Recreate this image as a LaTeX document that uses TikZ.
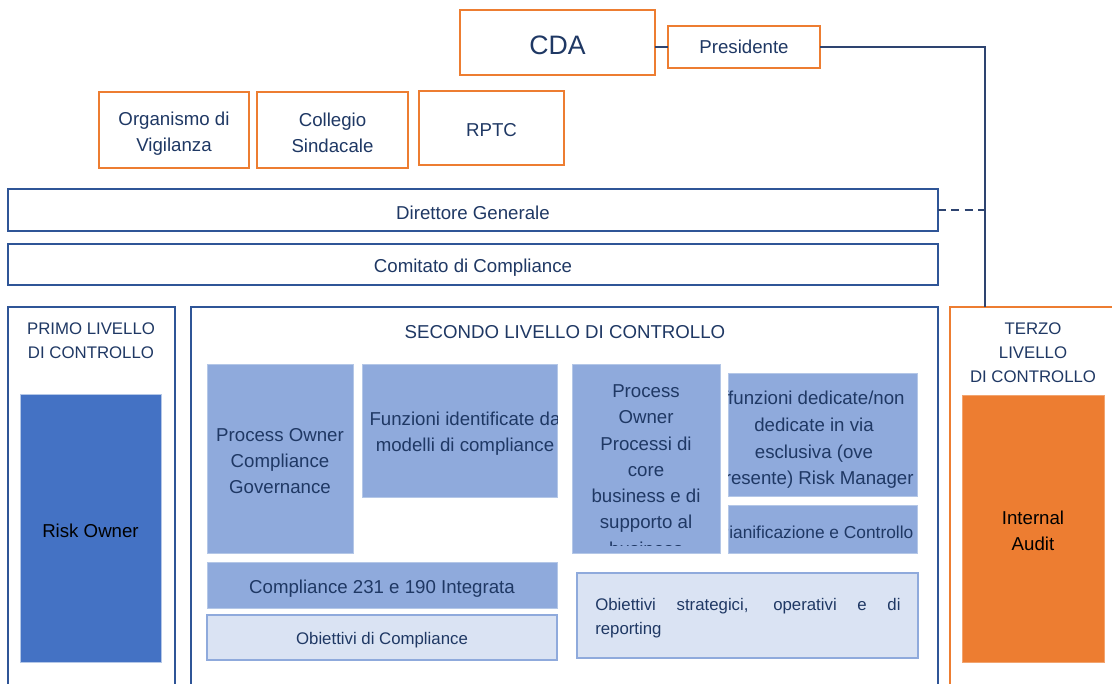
\documentclass[tikz,border=0pt]{standalone}
\usepackage{fontspec}
\setmainfont{Liberation Sans}
\definecolor{orangeC}{HTML}{ED7D31}
\definecolor{borderB}{HTML}{2F5597}
\definecolor{navyT}{HTML}{1F3864}
\definecolor{connC}{HTML}{2E4470}
\definecolor{innerF}{HTML}{8FAADC}
\definecolor{innerD}{HTML}{B4C7E7}
\definecolor{paleF}{HTML}{DAE3F3}
\definecolor{riskF}{HTML}{4472C4}
\newcommand\fA{\fontsize{14}{19.5}\selectfont}
\newcommand\fT{\fontsize{12.6}{18}\selectfont}
\newcommand\fS{\fontsize{12.6}{18}\selectfont}
\newcommand\fP{\fontsize{13}{18}\selectfont}
\newcommand\fBig{\fontsize{20}{24}\selectfont}
% plain box: name, style, x1, y1, x2, y2
\newcommand\bx[6]{%
  \pgfmathsetmacro\bw{(#5-#3)*0.75}%
  \pgfmathsetmacro\bh{(#6-#4)*0.75}%
  \node[#2, minimum width=\bw pt, minimum height=\bh pt, inner sep=0pt, outer sep=0pt]
    (#1) at ({(#3+#5)/2},{(#4+#6)/2}) {};}
% labelled box: name, box style, label style, x1, y1, x2, y2, text
\newcommand\bxl[8]{%
  \bx{#1}{#2}{#4}{#5}{#6}{#7}%
  \node[lbl, #3] (#1T) at ([yshift=-1.9pt]#1.center) {#8};}
\tikzset{
  orangebox/.style={draw=orangeC, line width=1.5pt},
  bluebox/.style={draw=borderB, line width=1.5pt},
  innerbox/.style={fill=innerF, draw=innerD, line width=0.6pt},
  palebox/.style={fill=paleF, draw=innerF, line width=1.5pt},
  lbl/.style={text=navyT, font=\fA, align=center, inner sep=0pt},
  txt/.style={text=navyT, font=\fA, align=center, inner sep=0pt},
  ttl/.style={text=navyT, font=\fT, align=center, inner sep=0pt},
  conn/.style={draw=connC, line width=1.5pt},
}
\begin{document}
\begin{tikzpicture}[x=0.75pt, y=-0.75pt]
\clip (0,0) rectangle (1112,684);
\fill[white] (0,0) rectangle (1112,684);

% top boxes
\bxl{cda}{orangebox}{font=\fBig}{460}{10}{655}{75}{CDA}
\bxl{pres}{orangebox}{yshift=1.9pt}{668}{26}{820}{68}{Presidente}
\bxl{odv}{orangebox}{yshift=-0.8pt}{99}{92}{249}{168}{Organismo di\\Vigilanza}
\bxl{coll}{orangebox}{}{257}{92}{408}{168}{Collegio\\Sindacale}
\bxl{rptc}{orangebox}{}{419}{91}{564}{165}{RPTC}

% wide bars
\bxl{dg}{bluebox}{}{8}{189}{938}{231}{Direttore Generale}
\bxl{cc}{bluebox}{yshift=-0.8pt}{8}{244}{938}{285}{Comitato di Compliance}

% level containers
\bx{primo}{bluebox}{8}{307}{175}{720}
\bx{sec}{bluebox}{191}{307}{938}{720}
\bx{terzo}{orangebox}{950}{307}{1140}{720}

\node[ttl] (primoT) at (91,341) {PRIMO LIVELLO\\DI CONTROLLO};
\node[txt] (secT) at (565,332) {SECONDO LIVELLO DI CONTROLLO};
\node[ttl] (terzoT) at (1033,353) {TERZO\\LIVELLO\\DI CONTROLLO};

% first level
\bxl{risk}{fill=riskF, draw=innerD, line width=0.6pt}{text=black}{20}{394}{161}{662}{Risk Owner}
% third level
\bxl{ia}{fill=orangeC, draw=orangeC!70, line width=0.6pt}{text=black}{962}{395}{1104}{662}{Internal\\Audit}

% second level inner boxes
\bxl{pocg}{innerbox}{}{207}{364}{353}{553}{Process Owner\\Compliance\\Governance}
\bx{fid}{innerbox}{362}{364}{557}{497}
\begin{scope}
  \clip (362,364) rectangle (557,497);
  \node[txt] (fidT) at (465,434) {Funzioni identificate da\\modelli di compliance};
\end{scope}
\bx{popc}{innerbox}{572}{364}{720}{553}
\begin{scope}
  \clip (572,364) rectangle (720,545);
  \node[txt, font=\fontsize{14}{19.7}\selectfont] (popcT) at (646,470)
    {Process\\Owner\\Processi di\\core\\business e di\\supporto al\\business};
\end{scope}
\bx{fded}{innerbox}{728}{373}{917}{496}
\begin{scope}
  \clip (728,373) rectangle (917,496);
  \node[txt, font=\fontsize{14}{20}\selectfont] (fdedT) at (814,440)
    {ffunzioni dedicate/non\\dedicate in via\\esclusiva (ove\\presente) Risk Manager};
\end{scope}
\bx{pian}{innerbox}{728}{505}{917}{553}
\begin{scope}
  \clip (728,505) rectangle (917,553);
  \node[txt, font=\fP] (pianT) at (815.5,532) {Pianificazione e Controllo};
\end{scope}
\bxl{c231}{innerbox}{yshift=-1pt}{207}{562}{557}{608}{Compliance 231 e 190 Integrata}
\bxl{obc}{palebox}{font=\fS}{207}{615}{557}{660}{Obiettivi di Compliance}
\bx{obs}{palebox}{577}{573}{918}{658}
\node[text=navyT, font=\fS, anchor=west, text width=229pt, align=justify, inner sep=0pt]
  (obsT) at (595,618) {Obiettivi strategici, operativi e di\linebreak reporting};

% connectors
\coordinate (vtop) at (985,307);
\draw[conn] (cda.east |- pres.west) -- (pres.west);
\draw[conn] (pres.east) -| (vtop);
\draw[conn, dash pattern=on 6pt off 4pt] (dg.east) -- (dg.east -| vtop);
\end{tikzpicture}
\end{document}
